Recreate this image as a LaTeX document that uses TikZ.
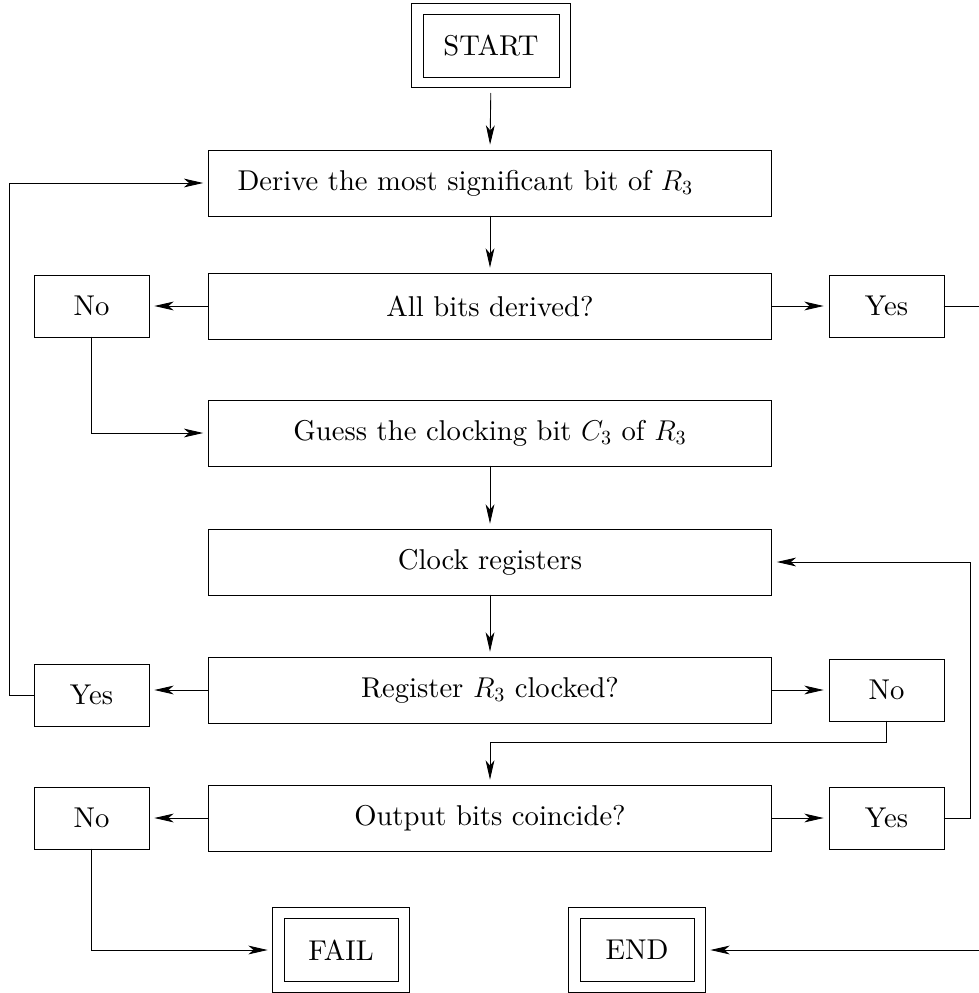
\RequirePackage{fix-cm}
\documentclass[tikz,border=0pt]{standalone}
\usepackage{amsmath}
\usepackage{fontspec}
\setmainfont{lmroman10-regular.otf}[BoldFont=lmroman10-bold.otf,ItalicFont=lmroman10-italic.otf]
\usepackage{tikz}
\usetikzlibrary{arrows.meta}
\usetikzlibrary{calc}
\newcommand{\boxfont}{\fontsize{16.3}{19.5}\selectfont}

\begin{document}
\begin{tikzpicture}[line cap=round,line join=miter,>={Stealth[length=11pt,width=5pt,inset=3pt]},x=0.02cm,y=-0.02cm,
  stepbox/.style={draw,rectangle,font=\boxfont,minimum width=11.26cm,minimum height=1.32cm},
  answer/.style={draw,rectangle,font=\boxfont,minimum width=2.3cm,minimum height=1.24cm},
  terminal/.style={draw,rectangle,font=\boxfont,minimum width=2.28cm,minimum height=1.26cm},
  flow/.style={->,line width=0.5pt,shorten >=0.1cm},
  toterm/.style={->,line width=0.5pt,shorten >=0.32cm}]
\useasboundingbox (0,0) rectangle (979,993);
% terminals
\node[terminal,minimum width=2.72cm] (start) at (491,45.5) {START};
\node[terminal] (fail) at (341,950) {FAIL};
\node[terminal] (end) at (637,950) {END};
\foreach \t in {start,fail,end}
  \draw[line width=0.5pt] ($(\t.south west)+(-0.22cm,-0.21cm)$) rectangle ($(\t.north east)+(0.22cm,0.21cm)$);
% main steps
\node[stepbox,inner xsep=0.58cm,text width=10.1cm,align=left] (derive) at (490,183) {Derive the most significant bit of $R_3$};
\node[stepbox] (alldone) at (490,306) {All bits derived?};
\node[stepbox] (guess) at (490,433) {Guess the clocking bit $C_3$ of $R_3$};
\node[stepbox] (clock) at (490,562) {Clock registers};
\node[stepbox] (clocked) at (490,690) {Register $R_3$ clocked?};
\node[stepbox] (coincide) at (490,818) {Output bits coincide?};
% answers
\node[answer] (no1) at (91.5,306) {No};
\node[answer] (yes1) at (886.5,306) {Yes};
\node[answer] (yes2) at (91.5,695) {Yes};
\node[answer] (no2) at (886.5,690) {No};
\node[answer] (no3) at (91.5,818) {No};
\node[answer] (yes3) at (886.5,818) {Yes};
% bends
\coordinate (east1) at (1000,306);
\coordinate (west1) at (9,695);
\coordinate (east2) at (970,818);
% connectors
\draw[flow,shorten <=0.32cm] (start.south) -- (derive.north);
\draw[flow] (derive.south) -- (alldone.north);
\draw[flow] (alldone.west) -- (no1.east);
\draw[flow] (alldone.east) -- (yes1.west);
\draw[toterm] (yes1.east) -- (east1) |- (end.east);
\draw[flow] (no1.south) |- (guess.west);
\draw[flow] (guess.south) -- (clock.north);
\draw[flow] (clock.south) -- (clocked.north);
\draw[flow] (clocked.west) -- (clocked.west -| yes2.east);
\draw[flow] (yes2.west) -- (west1) |- (derive.west);
\draw[flow] (clocked.east) -- (no2.west);
\draw[flow] (no2.south) -- ++(0,21) -| (coincide.north);
\draw[flow] (coincide.west) -- (no3.east);
\draw[flow] (coincide.east) -- (yes3.west);
\draw[flow] (yes3.east) -- (east2) |- (clock.east);
\draw[toterm] (no3.south) |- (fail.west);
\end{tikzpicture}
\end{document}
